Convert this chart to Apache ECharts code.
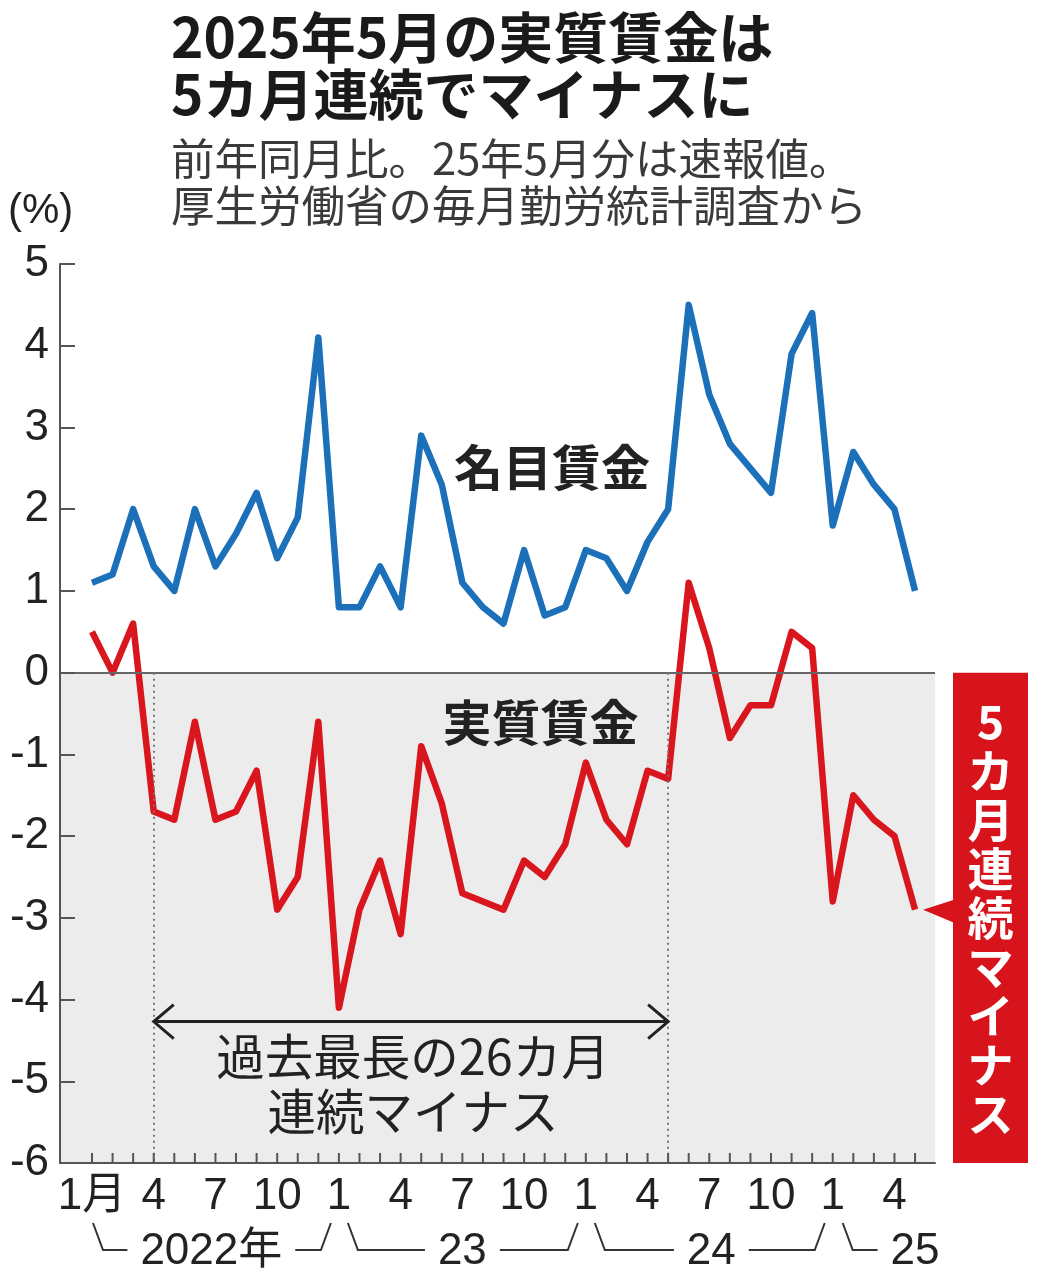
<!DOCTYPE html>
<html>
<head>
<meta charset="utf-8">
<script src="https://cdn.jsdelivr.net/npm/echarts@6/dist/echarts.min.js"></script>
<style>
html,body{margin:0;padding:0;background:#fff;}
#c{width:1042px;height:1280px;}
</style>
</head>
<body>
<div id="c"></div>
<script>
// ---- data ----
const months = [
  '2022-01','2022-02','2022-03','2022-04','2022-05','2022-06','2022-07','2022-08','2022-09','2022-10','2022-11','2022-12',
  '2023-01','2023-02','2023-03','2023-04','2023-05','2023-06','2023-07','2023-08','2023-09','2023-10','2023-11','2023-12',
  '2024-01','2024-02','2024-03','2024-04','2024-05','2024-06','2024-07','2024-08','2024-09','2024-10','2024-11','2024-12',
  '2025-01','2025-02','2025-03','2025-04','2025-05'
];
const nominal = [1.1,1.2,2.0,1.3,1.0,2.0,1.3,1.7,2.2,1.4,1.9,4.1,
                 0.8,0.8,1.3,0.8,2.9,2.3,1.1,0.8,0.6,1.5,0.7,0.8,
                 1.5,1.4,1.0,1.6,2.0,4.5,3.4,2.8,2.5,2.2,3.9,4.4,
                 1.8,2.7,2.3,2.0,1.0];
const real = [0.5,0.0,0.6,-1.7,-1.8,-0.6,-1.8,-1.7,-1.2,-2.9,-2.5,-0.6,
              -4.1,-2.9,-2.3,-3.2,-0.9,-1.6,-2.7,-2.8,-2.9,-2.3,-2.5,-2.1,
              -1.1,-1.8,-2.1,-1.2,-1.3,1.1,0.3,-0.8,-0.4,-0.4,0.5,0.3,
              -2.8,-1.5,-1.8,-2.0,-2.9];
const tickLabelIdx = [0,3,6,9,12,15,18,21,24,27,30,33,36,39];
const tickLabels = ['1月','4','7','10','1','4','7','10','1','4','7','10','1','4'];
const yearLabels = ['2022年','23','24','25'];
const streakStart = 3;   // 2022-04
const streakEnd = 28;    // 2024-05
const titleLines = ['2025年5月の実質賃金は','5カ月連続でマイナスに'];
const subtitleLines = ['前年同月比。25年5月分は速報値。','厚生労働省の毎月勤労統計調査から'];
const nominalName = '名目賃金';
const realName = '実質賃金';
const streakNote = ['過去最長の26カ月','連続マイナス'];
const boxText = '5カ月連続マイナス';

// ---- layout ----
const NUM_FONT = "'Liberation Sans','Noto Sans CJK JP',sans-serif";
const JP_FONT = "'Noto Sans CJK JP',sans-serif";
const X_MIN = -1.555, X_MAX = 40.97;
const yearLayout = [
  {center: 5.8, startOff: 1, endJan: 12},
  {center: 18, startOff: 9, startJan: 12, endJan: 24},
  {center: 30.1, startOff: 9, startJan: 24, endJan: 36},
  {center: 40.0, startOff: 10, startJan: 36, endJan: null}
];

const chart = echarts.init(document.getElementById('c'), null, {renderer:'canvas'});

const option = {
  backgroundColor: '#fff',
  animation: false,
  title: [
    {text: titleLines.join('\n'), left: 166, top: 4,
     textStyle:{fontFamily: JP_FONT, fontSize: 55, fontWeight: 'bold', color:'#1a1a1a', lineHeight: 57}},
    {text: subtitleLines.join('\n'), left: 166, top: 130,
     textStyle:{fontFamily: JP_FONT, fontSize: 43.5, fontWeight: 'normal', color:'#3a3a3a', lineHeight: 47}}
  ],
  grid: {left: 60, right: 107, top: 264, bottom: 117, containLabel: false},
  xAxis: {
    type: 'value', min: X_MIN, max: X_MAX, z: 10,
    axisLine: {show: true, onZero: false, lineStyle: {color: '#555', width: 2}},
    axisTick: {show: false},
    axisLabel: {show: true, customValues: tickLabelIdx, margin: 12,
                formatter: v => tickLabels[tickLabelIdx.indexOf(Math.round(v))] || '',
                fontFamily: NUM_FONT, fontSize: 44, color: '#222'},
    splitLine: {show: false}
  },
  yAxis: {
    type: 'value', min: -6, max: 5, interval: 1, z: 10,
    axisLine: {show: true, onZero: false, lineStyle: {color: '#555', width: 2}},
    axisTick: {show: true, inside: true, length: 15, lineStyle: {color:'#555', width: 2}},
    axisLabel: {margin: 11, fontFamily: NUM_FONT, fontSize: 44, color: '#222'},
    splitLine: {show: false}
  },
  series: [
    {
      name: 'helper', type: 'line', data: [], z: 1, silent: true,
      markArea: {silent: true, itemStyle: {color: '#ececec'},
        data: [[{coord: [X_MIN, 0]}, {coord: [X_MAX, -6]}]]},
      markLine: {silent: true, symbol: 'none', label: {show: false}, animation: false,
        data: [
          [{coord:[X_MIN,0], lineStyle:{color:'#666', width:2, type:'solid'}}, {coord:[X_MAX,0]}],
          [{coord:[streakStart,0], lineStyle:{color:'#777', width:2, type:[2,4]}}, {coord:[streakStart,-6]}],
          [{coord:[streakEnd,0], lineStyle:{color:'#777', width:2, type:[2,4]}}, {coord:[streakEnd,-6]}]
        ]}
    },
    {
      name: nominalName, type: 'line', z: 3, symbol: 'none',
      data: nominal.map((v,i)=>[i,v]),
      lineStyle: {color: '#1c6fb9', width: 6.5, join: 'round', cap: 'butt'}
    },
    {
      name: realName, type: 'line', z: 4, symbol: 'none',
      data: real.map((v,i)=>[i,v]),
      lineStyle: {color: '#d9161d', width: 6.5, join: 'round', cap: 'butt'}
    }
  ]
};
chart.setOption(option);

// ---- annotations anchored to the axes ----
function P(x, y){ return chart.convertToPixel({gridIndex:0}, [x, y]); }
const g = [];
// month ticks on the x axis
months.forEach((m, i) => {
  const p = P(i, -6);
  g.push({type:'line', shape:{x1:p[0], y1:p[1], x2:p[0], y2:p[1]-10}, style:{stroke:'#555', lineWidth:2}});
});
// (%)
g.push({type:'text', left: 8, top: 190, style:{text:'(%)', fontFamily: NUM_FONT, fontSize: 42, fill:'#222'}});

// series name labels
const pn = P(22.36, 2.51);
g.push({type:'text', x: pn[0], y: pn[1], style:{text: nominalName, fontFamily: JP_FONT, fontSize: 49, fontWeight:'bold', fill:'#222', align:'center', verticalAlign:'middle'}});
const pr = P(21.8, -0.61);
g.push({type:'text', x: pr[0], y: pr[1], style:{text: realName, fontFamily: JP_FONT, fontSize: 49, fontWeight:'bold', fill:'#222', align:'center', verticalAlign:'middle'}});

// streak arrow
const a0 = P(streakStart, -4.27), a1 = P(streakEnd, -4.27);
const arrowStyle = {stroke:'#222', lineWidth: 3, fill: null};
g.push({type:'line', shape:{x1:a0[0], y1:a0[1], x2:a1[0], y2:a1[1]}, style: arrowStyle});
g.push({type:'polyline', shape:{points:[[a0[0]+20,a0[1]-17],[a0[0],a0[1]],[a0[0]+20,a0[1]+17]]}, style: arrowStyle});
g.push({type:'polyline', shape:{points:[[a1[0]-20,a1[1]-17],[a1[0],a1[1]],[a1[0]-20,a1[1]+17]]}, style: arrowStyle});
const pt = P((streakStart+streakEnd)/2 + 0.1, -5.04);
g.push({type:'text', x: pt[0], y: pt[1], style:{text: streakNote.join('\n'), fontFamily: JP_FONT, fontSize: 48.5, lineHeight: 55, fill:'#222', align:'center', verticalAlign:'middle'}});

// red box with pointer
const gridRight = P(X_MAX, 0)[0];
const top0 = P(0, 0)[1], bot = P(0, -6)[1];
const boxL = gridRight + 18, boxW = 75;
g.push({type:'rect', shape:{x: boxL, y: top0, width: boxW, height: bot - top0}, style:{fill:'#d7141b'}});
const last = P(real.length-1, real[real.length-1]);
g.push({type:'polygon', shape:{points:[[last[0]+8, last[1]], [boxL+1, last[1]-10], [boxL+1, last[1]+13]]}, style:{fill:'#d7141b'}});
g.push({type:'text', x: boxL + boxW/2, y: (top0+bot)/2, style:{text: boxText.split('').join('\n'), fontFamily: JP_FONT, fontSize: 46, lineHeight: 49, fontWeight:'bold', fill:'#fff', align:'center', verticalAlign:'middle'}});

// year row with brackets
const yTop = 1223, yBot = 1250, yText = 1252;
const measure = (t) => { const c = document.createElement('canvas').getContext('2d'); c.font = '44px ' + NUM_FONT; return c.measureText(t).width; };
const brStyle = {stroke:'#333', lineWidth: 2, fill: null};
yearLayout.forEach((L, k) => {
  const cx = P(L.center, 0)[0];
  const w = measure(yearLabels[k]);
  g.push({type:'text', x: cx, y: yText, style:{text: yearLabels[k], fontFamily: NUM_FONT, fontSize: 44, fill:'#222', align:'center', verticalAlign:'middle'}});
  const startJanX = P(L.startJan === undefined ? 0 : L.startJan, 0)[0];
  const sx = startJanX + L.startOff;
  g.push({type:'polyline', shape:{points:[[sx, yTop],[sx+10, yBot],[cx - w/2 - 13, yBot]]}, style: brStyle});
  if (L.endJan !== null) {
    const ex = P(L.endJan, 0)[0] - 8;
    g.push({type:'polyline', shape:{points:[[cx + w/2 + 13, yBot],[ex-10, yBot],[ex, yTop]]}, style: brStyle});
  }
});
g.forEach(el => { el.zlevel = 1; el.z = 100; });
chart.setOption({graphic: {elements: g}});
</script>
</body>
</html>
